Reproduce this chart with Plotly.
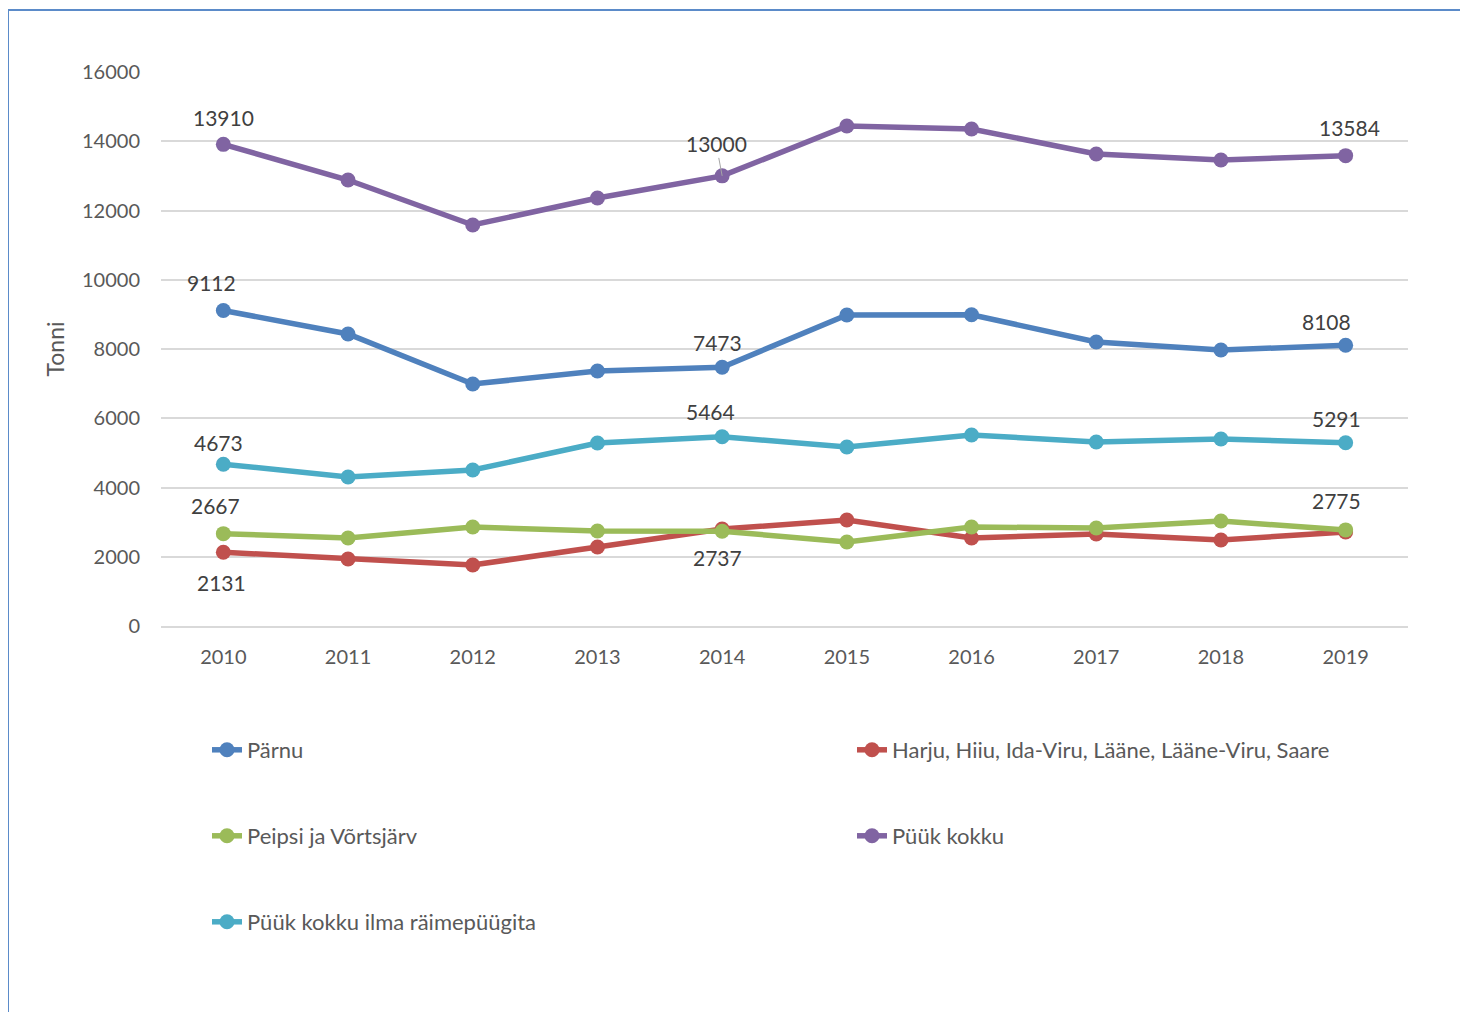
import plotly.graph_objects as go

years = ["2010", "2011", "2012", "2013", "2014", "2015", "2016", "2017", "2018", "2019"]
parnu = [9112, 8433, 6989, 7365, 7473, 8982, 8990, 8202, 7971, 8108]
harju = [2131, 1935, 1762, 2282, 2801, 3061, 2541, 2657, 2484, 2715]
peipsi = [2667, 2541, 2859, 2744, 2737, 2426, 2859, 2830, 3032, 2775]
kokku = [13910, 12881, 11581, 12361, 13000, 14440, 14354, 13632, 13458, 13584]
ilma = [4673, 4303, 4505, 5285, 5464, 5170, 5516, 5314, 5401, 5291]

names = ["Pärnu", "Harju, Hiiu, Ida-Viru, Lääne, Lääne-Viru, Saare",
         "Peipsi ja Võrtsjärv", "Püük kokku", "Püük kokku ilma räimepüügita"]
series = [parnu, harju, peipsi, kokku, ilma]
colors = ["#4F81BD", "#C0504D", "#9BBB59", "#8064A2", "#4BACC6"]

# labelled points: (series index, year index, xshift, yshift)
labels = [
    (3, 0, 0, 27), (3, 4, None, None), (3, 9, 4, 28),
    (0, 0, -12, 28), (0, 4, -5, 25), (0, 9, -19, 24),
    (4, 0, -5, 22), (4, 4, -12, 25), (4, 9, -9, 24),
    (2, 0, -8, 28), (2, 4, -5, -26), (2, 9, -9, 29),
    (1, 0, -2, -30),
]

O = 8  # page body margin
W, H = 1468 - 2 * O, 1020 - 2 * O
L, R, T, B = 161 - O, 1408 - O, 72 - O, 626 - O
def px(x):
    return (x - O - L) / (R - L)
def py(y):
    return (B - (y - O)) / (B - T)

FONT = "Lato"
fig = go.Figure()
legend_pos = [(207, 750), (852, 750), (207, 836), (852, 836), (207, 922)]
for i, (nm, vals, c) in enumerate(zip(names, series, colors)):
    lg = "legend" if i == 0 else f"legend{i+1}"
    fig.add_trace(go.Scatter(
        x=years, y=vals, name=nm, mode="lines+markers",
        line=dict(color=c, width=5.5), marker=dict(color=c, size=15),
        legend=lg, showlegend=True, hoverinfo="x+y+name"))

layout_legends = {}
for i, (lx, ly) in enumerate(legend_pos):
    key = "legend" if i == 0 else f"legend{i+1}"
    layout_legends[key] = dict(
        x=px(lx), y=py(ly), xref="paper", yref="paper",
        xanchor="left", yanchor="middle", bgcolor="rgba(0,0,0,0)",
        font=dict(family=FONT, size=22, color="#595959"),
        visible=True)

anns = []
for si, yi, xs, ys in labels:
    v = series[si][yi]
    if xs is None:
        anns.append(dict(x=yi, y=v, xref="x", yref="y", text=str(v), showarrow=True,
                         arrowhead=0, arrowwidth=1, arrowcolor="#A6A6A6",
                         ax=-6, ay=-32,
                         font=dict(family=FONT, size=21, color="#404040")))
    else:
        anns.append(dict(x=yi, y=v, xref="x", yref="y", text=str(v), showarrow=False,
                         xshift=xs, yshift=ys,
                         font=dict(family=FONT, size=21, color="#404040")))

shapes = [
    dict(type="line", xref="paper", yref="paper", x0=px(8), y0=py(10), x1=px(1470), y1=py(10),
         line=dict(color="#5B8BC9", width=2)),
    dict(type="line", xref="paper", yref="paper", x0=px(8), y0=py(10), x1=px(8), y1=py(1030),
         line=dict(color="#5B8BC9", width=2)),
]

fig.update_layout(
    width=W, height=H, showlegend=True,
    margin=dict(l=L, r=W - R, t=T, b=H - B),
    paper_bgcolor="white", plot_bgcolor="white",
    font=dict(family=FONT, size=20, color="#595959"),
    xaxis=dict(type="category", range=[-0.5, 9.5], showgrid=False,
               showline=True, linecolor="#D9D9D9", linewidth=2,
               ticks="", ticklabelstandoff=12,
               tickfont=dict(family=FONT, size=20, color="#595959"), fixedrange=True),
    yaxis=dict(range=[0, 16000], dtick=2000, tickformat="d", showgrid=True, gridcolor="#D9D9D9",
               gridwidth=2, zeroline=False, showline=False, ticks="",
               ticklabelstandoff=20,
               tickfont=dict(family=FONT, size=20, color="#595959"),
               title=dict(text="Tonni", font=dict(family=FONT, size=23, color="#595959"), standoff=10),
               fixedrange=True),
    annotations=anns, shapes=shapes,
    **layout_legends,
)
fig.write_html("out.html")
